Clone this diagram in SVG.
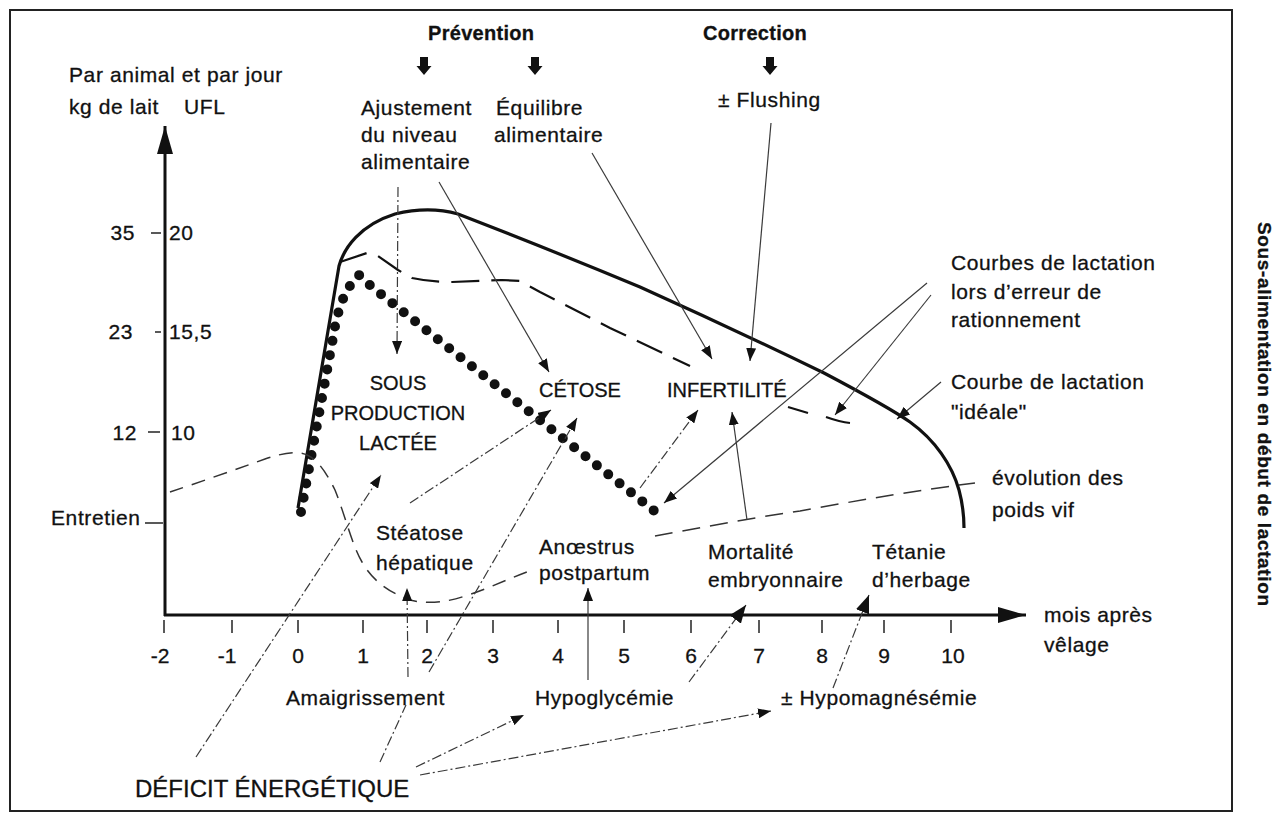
<svg xmlns="http://www.w3.org/2000/svg" width="1283" height="815" viewBox="0 0 1283 815">
<style>
text{font-family:"Liberation Sans",Arial,sans-serif;fill:#111;stroke:#111;stroke-width:0.3}
.t{font-size:21px;letter-spacing:0.6px}
.c{font-size:20px}
.b{font-size:20px;font-weight:bold;letter-spacing:0.3px}
.n{font-size:21px;text-anchor:middle}
.e{text-anchor:end}
.m{text-anchor:middle}
.thin{fill:none;stroke:#3a3a3a;stroke-width:1.2}
.dd{stroke-dasharray:10 3 2 3}
.ar{marker-end:url(#ah)}
.arb{marker-end:url(#ahb)}
.axis{fill:none;stroke:#111;stroke-width:3}
.tick{stroke:#222;stroke-width:1.5}
</style>
<defs>
<marker id="ah" viewBox="0 0 13 10" refX="13" refY="5" markerWidth="13" markerHeight="10" markerUnits="userSpaceOnUse" orient="auto"><path d="M0,0 L13,5 L0,10 z" fill="#111"/></marker>
<marker id="ahb" viewBox="0 0 18 14" refX="18" refY="7" markerWidth="18" markerHeight="14" markerUnits="userSpaceOnUse" orient="auto"><path d="M0,0 L18,7 L0,14 z" fill="#111"/></marker>
<marker id="axa" viewBox="0 0 28 16" refX="28" refY="8" markerWidth="28" markerHeight="16" markerUnits="userSpaceOnUse" orient="auto"><path d="M0,0 L28,8 L0,16 z" fill="#111"/></marker>
<path id="blk" d="M-4,0 h8 v9 h3.5 l-7.5,9 l-7.5,-9 h3.5 z" fill="#111"/>
</defs>
<rect width="1283" height="815" fill="#fff"/>
<rect id="frame" x="10" y="10" width="1222" height="801" fill="none" stroke="#222" stroke-width="2"/>

<g id="axes">
<line class="axis" x1="165" y1="616" x2="165" y2="126" marker-end="url(#axa)"/>
<line class="axis" x1="164" y1="615" x2="1026" y2="615" marker-end="url(#axa)"/>
<g class="tick">
<line x1="164" y1="620" x2="164" y2="633"/><line x1="232" y1="620" x2="232" y2="633"/>
<line x1="298" y1="620" x2="298" y2="633"/><line x1="363" y1="620" x2="363" y2="633"/>
<line x1="427" y1="620" x2="427" y2="633"/><line x1="493" y1="620" x2="493" y2="633"/>
<line x1="558" y1="620" x2="558" y2="633"/><line x1="624" y1="620" x2="624" y2="633"/>
<line x1="691" y1="620" x2="691" y2="633"/><line x1="759" y1="620" x2="759" y2="633"/>
<line x1="822" y1="620" x2="822" y2="633"/><line x1="884" y1="620" x2="884" y2="633"/>
<line x1="951" y1="620" x2="951" y2="633"/>
<line x1="151" y1="233" x2="161" y2="233"/><line x1="155" y1="332" x2="161" y2="332"/>
<line x1="148" y1="432" x2="160" y2="432"/><line x1="145" y1="523" x2="163" y2="523"/>
</g>
</g>

<g id="axis-labels" class="n">
<text x="160" y="663">-2</text><text x="227" y="663">-1</text>
<text x="298" y="663">0</text><text x="363" y="663">1</text><text x="427" y="663">2</text>
<text x="493" y="663">3</text><text x="558" y="663">4</text><text x="624" y="663">5</text>
<text x="691" y="663">6</text><text x="759" y="663">7</text><text x="822" y="663">8</text>
<text x="884" y="663">9</text><text x="953" y="663">10</text>
</g>
<g id="y-labels" class="t">
<text x="135" y="240" class="e">35</text><text x="169" y="240">20</text>
<text x="133" y="339" class="e">23</text><text x="169" y="339">15,5</text>
<text x="137" y="440" class="e">12</text><text x="171" y="440">10</text>
<text x="51" y="525">Entretien</text>
<text x="69" y="82">Par animal et par jour</text>
<text x="69" y="114">kg de lait</text><text x="184" y="114">UFL</text>
</g>

<g id="curves">
<path id="ideal" d="M298,508 L339,266 C344,248 360,225 395,214 C420,208 440,209 458,214 C520,238 580,262 640,287 C700,314 760,342 824,373 C860,392 890,408 910,422 C935,440 952,465 959,490 C963,505 964,518 964,528" fill="none" stroke="#111" stroke-width="3.2"/>
<path id="error-dashed" d="M340,262 L367,253 L378,256 L398,270 L412,278 Q430,282 452,282 L502,280 L520,281 L540,292 L610,328 L690,366" fill="none" stroke="#111" stroke-width="2.2" stroke-dasharray="28 12"/>
<path id="error-dashed-end" d="M788,407 L808,413 M826,417 Q840,422 850,423" fill="none" stroke="#111" stroke-width="2.2"/>
<path id="error-dotted" d="M301,512 L333,338 C336,318 341,300 349,287 L359,275 L372,287 L662,517" fill="none" stroke="#111" stroke-width="10" stroke-linecap="round" stroke-dasharray="0 14.5"/>
<path id="weight1" d="M170,492 C200,482 240,468 265,459 C280,454 290,452 300,453 C315,455 325,470 335,490 C345,515 352,545 362,562 C372,580 388,592 410,600 C425,604 445,603 465,596 C490,588 510,578 532,570" fill="none" stroke="#333" stroke-width="1.5" stroke-dasharray="14 9"/>
<path id="weight2" d="M655,536 C700,528 750,518 800,511 C860,500 920,490 975,483" fill="none" stroke="#333" stroke-width="1.5" stroke-dasharray="18 10"/>
</g>

<g id="connectors">
<line class="thin dd ar" x1="398" y1="187" x2="397" y2="354"/>
<line class="thin ar" x1="439" y1="182" x2="549" y2="372"/>
<line class="thin ar" x1="592" y1="153" x2="712" y2="359"/>
<line class="thin ar" x1="771" y1="123" x2="750" y2="361"/>
<line class="thin ar" x1="927" y1="283" x2="664" y2="503"/>
<line class="thin ar" x1="931" y1="295" x2="835" y2="415"/>
<line class="thin ar" x1="941" y1="382" x2="897" y2="419"/>
<line class="thin dd ar" x1="196" y1="757" x2="381" y2="475"/>
<line class="thin dd" x1="380" y1="762" x2="406" y2="705"/>
<line class="thin dd ar" x1="429" y1="672" x2="577" y2="418"/>
<line class="thin dd ar" x1="410" y1="503" x2="551" y2="410"/>
<line class="thin dd ar" x1="408" y1="677" x2="407" y2="588"/>
<line class="thin ar" x1="588" y1="680" x2="588" y2="588"/>
<line class="thin dd ar" x1="640" y1="488" x2="698" y2="410"/>
<line class="thin ar" x1="747" y1="520" x2="732" y2="412"/>
<line class="thin dd ar" x1="416" y1="767" x2="524" y2="715"/>
<line class="thin dd ar" x1="420" y1="775" x2="771" y2="711"/>
<line class="thin dd arb" x1="689" y1="682" x2="746" y2="605"/>
<line class="thin dd arb" x1="833" y1="688" x2="869" y2="595"/>
</g>

<g id="prevention"><text class="b" x="428" y="40">Prévention</text><use href="#blk" x="424" y="57"/><use href="#blk" x="535" y="57"/></g>
<g id="correction"><text class="b" x="703" y="40">Correction</text><use href="#blk" x="770" y="57"/></g>
<g id="ajustement" class="t"><text x="361" y="115">Ajustement</text><text x="361" y="142">du niveau</text><text x="361" y="169">alimentaire</text></g>
<g id="equilibre" class="t"><text x="496" y="115">Équilibre</text><text x="494" y="142">alimentaire</text></g>
<g id="flushing" class="t"><text x="718" y="107">± Flushing</text></g>
<g id="sous-production" class="c m"><text x="398" y="390">SOUS</text><text x="398" y="420">PRODUCTION</text><text x="398" y="450">LACTÉE</text></g>
<g id="cetose" class="c"><text x="539" y="397">CÉTOSE</text></g>
<g id="infertilite" class="c"><text x="667" y="397">INFERTILITÉ</text></g>
<g id="courbes-erreur" class="t"><text x="951" y="270">Courbes de lactation</text><text x="951" y="299">lors d’erreur de</text><text x="951" y="327">rationnement</text></g>
<g id="courbe-ideale" class="t"><text x="951" y="389">Courbe de lactation</text><text x="951" y="419">"idéale"</text></g>
<g id="poids-vif" class="t"><text x="992" y="485">évolution des</text><text x="992" y="517">poids vif</text></g>
<g id="steatose" class="t"><text x="376" y="540">Stéatose</text><text x="376" y="570">hépatique</text></g>
<g id="anoestrus" class="t"><text x="539" y="554">Anœstrus</text><text x="539" y="580">postpartum</text></g>
<g id="mortalite" class="t"><text x="708" y="559">Mortalité</text><text x="708" y="587">embryonnaire</text></g>
<g id="tetanie" class="t"><text x="872" y="559">Tétanie</text><text x="872" y="587">d’herbage</text></g>
<g id="mois" class="t"><text x="1044" y="622">mois après</text><text x="1044" y="652">vêlage</text></g>
<g id="amaigrissement" class="t"><text x="286" y="705">Amaigrissement</text></g>
<g id="hypoglycemie" class="t"><text x="535" y="705">Hypoglycémie</text></g>
<g id="hypomagnesemie" class="t"><text x="781" y="705">± Hypomagnésémie</text></g>
<g id="deficit"><text x="135" y="797" style="font-size:24px">DÉFICIT ÉNERGÉTIQUE</text></g>
<g id="side-title"><text transform="translate(1258,222) rotate(90)" style="font-size:19px;font-weight:bold" textLength="384" lengthAdjust="spacing">Sous-alimentation en début de lactation</text></g>
</svg>
